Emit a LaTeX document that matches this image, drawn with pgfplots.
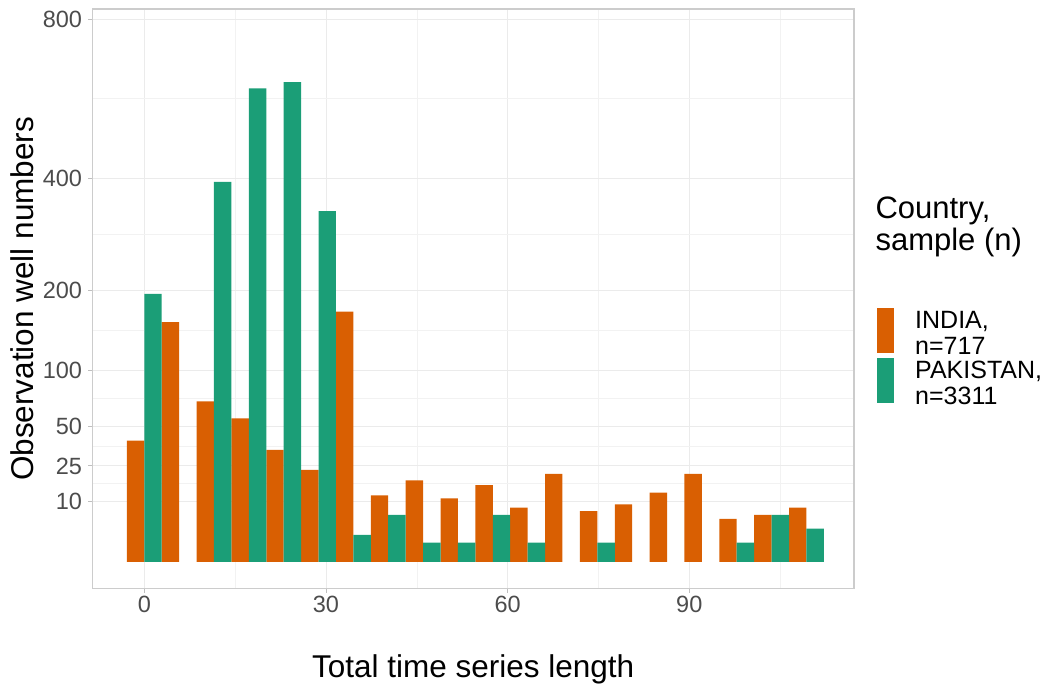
\documentclass[border=0pt]{standalone}
\usepackage{pgfplots}
\pgfplotsset{compat=1.18}
\usepackage{fontspec}
\setmainfont{Liberation Sans}
\definecolor{indiaC}{HTML}{D95F02}
\definecolor{pakC}{HTML}{1B9E77}
\pgfplotstableread{
x y
-1.439 40
4.316 156
10.071 70
15.826 56
21.581 34
27.336 23
33.091 170
38.846 12
44.601 18
50.356 11
56.111 16
61.866 8
67.621 21
73.376 7
79.131 9
84.886 13
90.641 21
96.396 5
102.151 6
107.906 8
}\india
\pgfplotstableread{
x y
1.439 195
12.949 392
18.704 609
24.459 625
30.214 334
35.969 2
41.724 6
47.479 1
53.234 1
58.989 6
64.744 1
76.254 1
99.274 1
105.029 6
110.784 3
}\pakistan
\begin{document}
\begin{tikzpicture}
\useasboundingbox (-92.5pt,-100.3pt) rectangle (952.5pt,588.7pt);
\begin{axis}[
  at={(0pt,0pt)}, anchor=south west,
  scale only axis, width=761.5pt, height=579.7pt,
  xmin=-8.554, xmax=117.2, ymin=-1.95, ymax=830,
  y coord trafo/.code={\pgfmathparse{#1>=0 ? sqrt(abs(#1)) : -sqrt(abs(#1))}},
  y coord inv trafo/.code={\pgfmathparse{(#1)*abs(#1)}},
  xtick={0,30,60,90}, xticklabels={0,30,60,90},
  minor xtick={15,45,75,105},
  ytick={10,25,50,100,200,400,800},
  yticklabels={10,25,50,100,200,400,800},
  minor ytick={16.6,36.4,72.9,145.7,291.4,582.8},
  xtick pos=bottom, ytick pos=left,
  grid=both,
  major grid style={black!8, line width=0.9pt},
  minor grid style={black!5, line width=0.5pt},
  axis line style={black!20, line width=1.2pt},
  tick align=outside,
  major tick length=4pt, minor tick length=0pt,
  tick style={black!25, line width=0.9pt},
  /pgf/number format/assume math mode=true,
  ticklabel style={font=\fontsize{23.5}{27}\selectfont, text=black!70},
  yticklabel style={xshift=-3pt},
  legend style={at={(axis description cs:1.0302,0.4842)}, anchor=north west,
    draw=none, fill=none, inner sep=0pt, column sep=19pt, row sep=0pt,
    font=\fontsize{25}{26}\selectfont,
    cells={align=left, inner sep=0pt}},
  legend cell align=left,
  ybar, bar width=2.878, bar shift=0pt,
]
\addplot[fill=indiaC, draw=none,
  legend image code/.code={\fill[indiaC] (0pt,-19pt) rectangle (17pt,25.7pt);}] table[x=x,y=y] {\india};
\addlegendentry{INDIA,\\n=717}
\addplot[fill=pakC, draw=none,
  legend image code/.code={\fill[pakC] (0pt,-19pt) rectangle (17pt,25.7pt);}] table[x=x,y=y] {\pakistan};
\addlegendentry{PAKISTAN,\\n=3311}
\end{axis}
\node[anchor=base west, font=\fontsize{31}{32}\selectfont] at (779.5pt,369.7pt) {Country,};
\node[anchor=base west, font=\fontsize{31}{32}\selectfont] at (779.5pt,337.7pt) {sample (n)};
\node[anchor=base, font=\fontsize{31.5}{34}\selectfont] at (380.75pt,-88.6pt) {Total time series length};
\node[anchor=base, rotate=90, font=\fontsize{31.5}{34}\selectfont] at (-59pt,289.85pt) {Observation well numbers};
\end{tikzpicture}
\end{document}
